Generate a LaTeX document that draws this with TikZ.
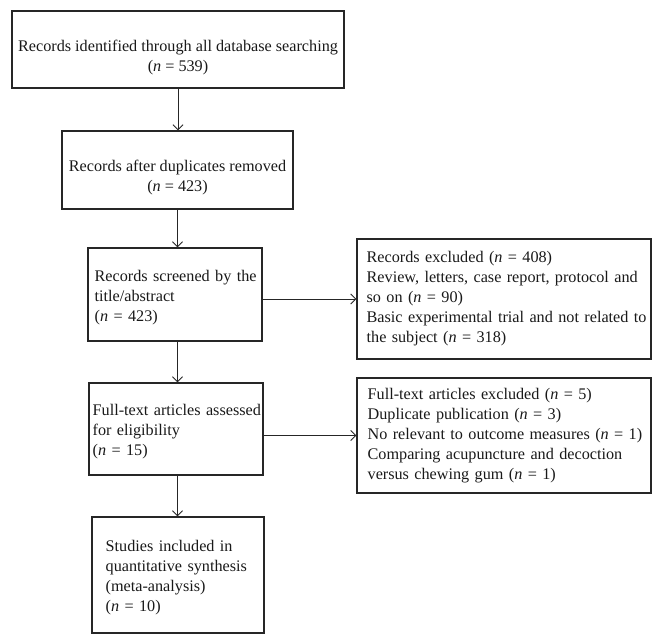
\documentclass[tikz,border=0pt]{standalone}
\usepackage{fontspec}
\setmainfont{Liberation Serif}
\usetikzlibrary{arrows.meta}
\begin{document}
\begin{tikzpicture}[x=1pt,y=-1pt,
  box/.style={draw=black!85, line width=1.1pt, inner sep=0pt},
  txt/.style={inner sep=0pt, font=\fontsize{16.2}{20}\selectfont, text=black!90},
  arr/.style={draw=black!85, line width=1pt, -{Straight Barb[length=5pt,width=10pt]}}]
\useasboundingbox (0,0) rectangle (661,644);
% boxes
\node[box, minimum width=332, minimum height=77] (b1) at (178,49.5) {};
\node[box, minimum width=231, minimum height=78] (b2) at (177.5,170) {};
\node[box, minimum width=174, minimum height=93] (b3) at (175,294.5) {};
\node[box, minimum width=174, minimum height=92] (b4) at (176,429) {};
\node[box, minimum width=172, minimum height=116] (b5) at (178,575) {};
\node[box, minimum width=294, minimum height=120] (r1) at (504,299) {};
\node[box, minimum width=294, minimum height=115] (r2) at (504,435.5) {};
% texts
\node[txt, align=center] (t1) at ([yshift=-8pt]b1.center) {Records identified through all database searching\\(\textit{n} = 539)};
\node[txt, align=center] (t2) at ([yshift=-8pt]b2.center) {Records after duplicates removed\\(\textit{n} = 423)};
\node[txt, align=left, anchor=west, text width=220] (t3) at ([xshift=7pt,yshift=-3pt]b3.west) {Records screened by the\\title/abstract\\(\textit{n} = 423)};
\node[txt, align=left, anchor=west, text width=220] (t4) at ([xshift=4pt,yshift=-3pt]b4.west) {Full-text articles assessed\\for eligibility\\(\textit{n} = 15)};
\node[txt, align=left, anchor=west, text width=220] (t5) at ([xshift=14pt,yshift=-3pt]b5.west) {Studies included in\\quantitative synthesis\\(meta-analysis)\\(\textit{n} = 10)};
\node[txt, align=left, anchor=west, text width=320] (t6) at ([xshift=10pt,yshift=0pt]r1.west) {Records excluded (\textit{n} = 408)\\Review, letters, case report, protocol and\\so on (\textit{n} = 90)\\Basic experimental trial and not related to\\the subject (\textit{n} = 318)};
\node[txt, align=left, anchor=west, text width=320] (t7) at ([xshift=11pt,yshift=0pt]r2.west) {Full-text articles excluded (\textit{n} = 5)\\Duplicate publication (\textit{n} = 3)\\No relevant to outcome measures (\textit{n} = 1)\\Comparing acupuncture and decoction\\versus chewing gum (\textit{n} = 1)};
% connectors
\draw[arr] (b1.south) -- (b1.south |- b2.north);
\draw[arr] (b2.south) -- (b2.south |- b3.north);
\draw[arr] (b2.south |- b3.south) -- (b2.south |- b4.north);
\draw[arr] (b2.south |- b4.south) -- (b2.south |- b5.north);
\draw[arr] (b3.east |- r1.west) -- (r1.west);
\draw[arr] (b4.east |- r2.west) -- (r2.west);
\end{tikzpicture}
\end{document}
